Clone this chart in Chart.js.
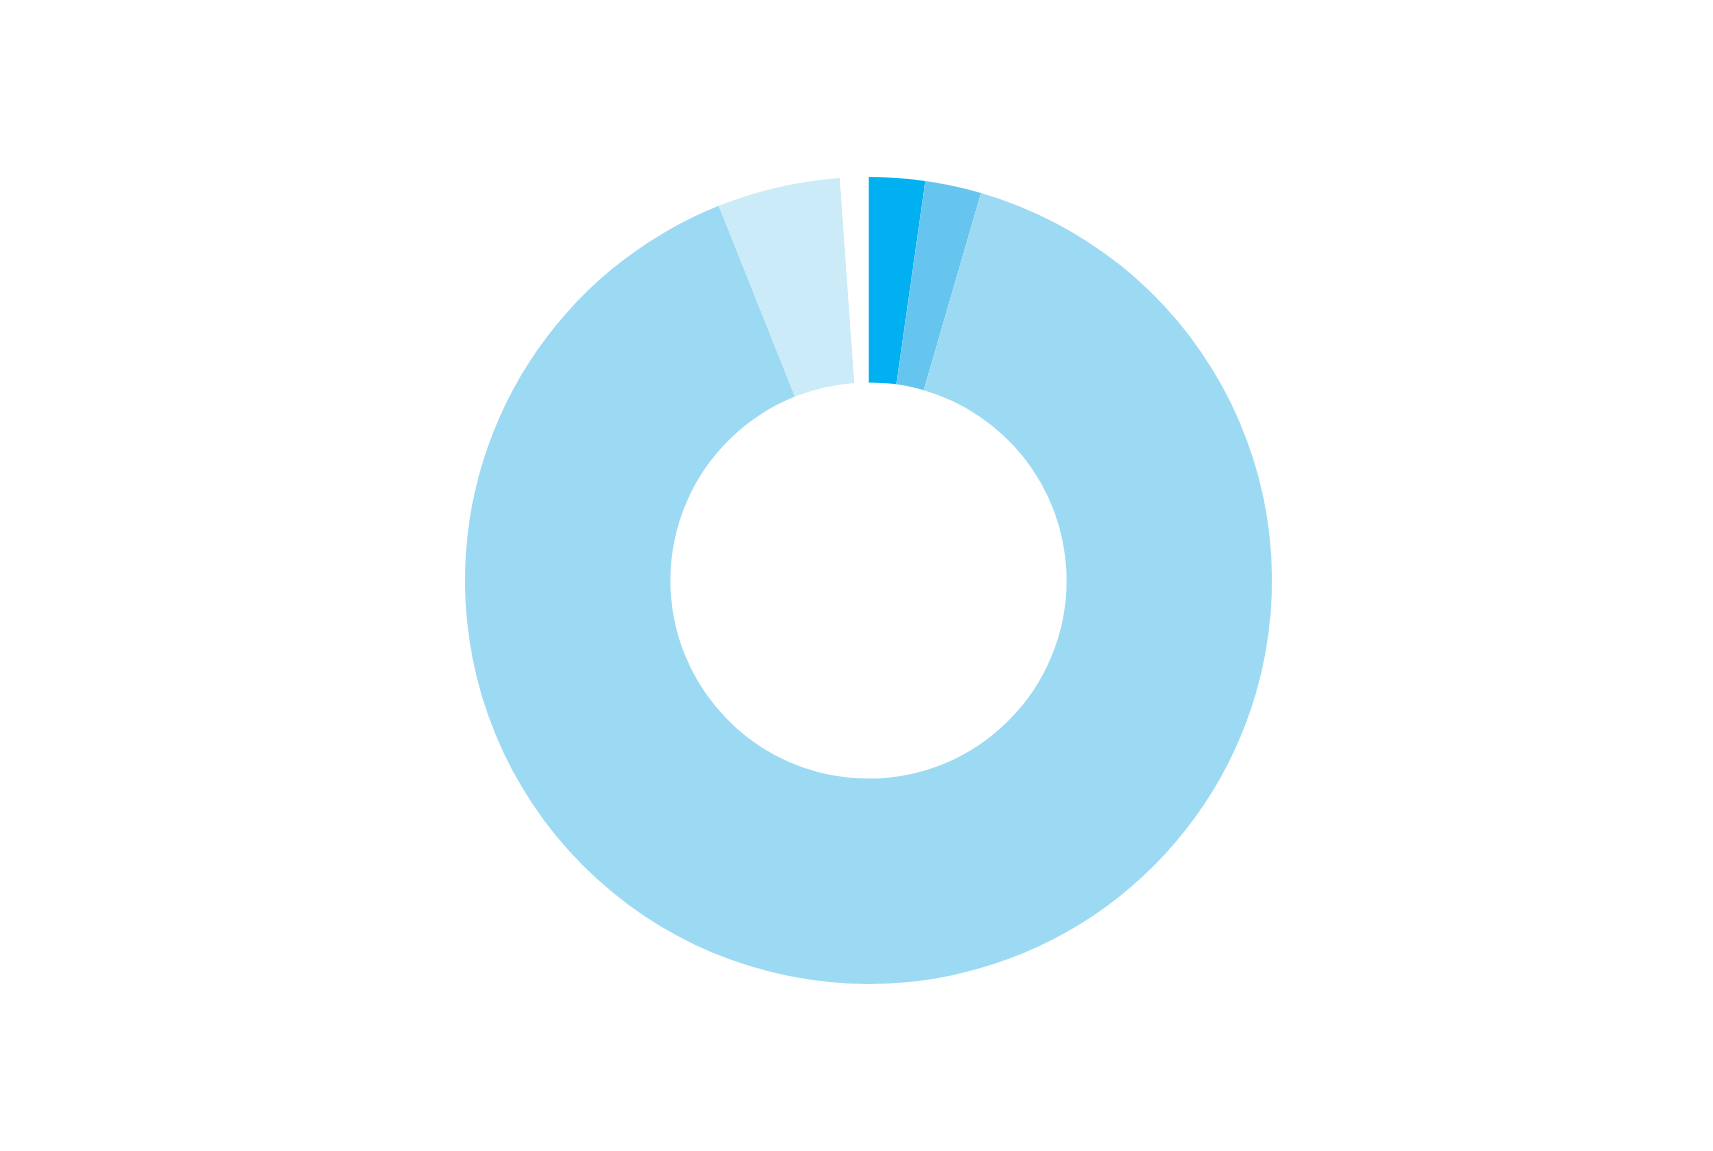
<!DOCTYPE html>
<html>
<head>
<meta charset="utf-8">
<script src="https://cdn.jsdelivr.net/npm/chart.js@4/dist/chart.umd.min.js"></script>
<style>
html,body{margin:0;padding:0;background:#ffffff;}
#wrap{width:1713px;height:1151px;}
</style>
</head>
<body>
<div id="wrap"><canvas id="c" width="1713" height="1151"></canvas></div>
<script>
const categories = ["Segment 1", "Segment 2", "Segment 3", "Segment 4", "Segment 5"];
const values = [2.25, 2.25, 89.45, 4.92, 1.13];
const colors = ["#00B0F0", "#66C5EE", "#9CD9F3", "#CCEBF8", "#FFFFFF"];

new Chart(document.getElementById('c'), {
  type: 'doughnut',
  data: {
    labels: categories,
    datasets: [{
      data: values,
      backgroundColor: colors,
      borderWidth: 0,
      hoverOffset: 0
    }]
  },
  options: {
    responsive: false,
    animation: false,
    cutout: '49.1%',
    layout: { padding: { top: 177, bottom: 167, left: 200, right: 176 } },
    plugins: {
      legend: { display: false },
      tooltip: { enabled: false },
      title: { display: false }
    }
  }
});
</script>
</body>
</html>
